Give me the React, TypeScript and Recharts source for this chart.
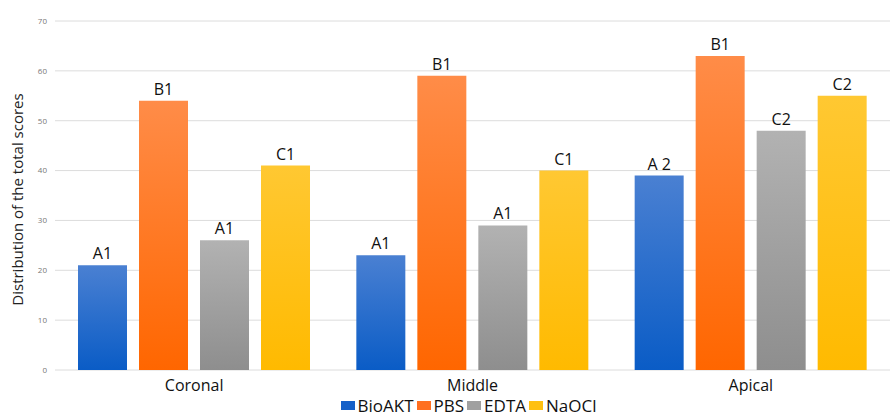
import React from 'react';
import { BarChart, Bar, XAxis, YAxis, CartesianGrid, LabelList, Legend } from 'recharts';

const categories = ['Coronal', 'Middle', 'Apical'];
const bioAKT = [21, 23, 39];
const pbs = [54, 59, 63];
const edta = [26, 29, 48];
const naocl = [41, 40, 55];
const bioAKTLabels = ['A1', 'A1', 'A 2'];
const pbsLabels = ['B1', 'B1', 'B1'];
const edtaLabels = ['A1', 'A1', 'C2'];
const naoclLabels = ['C1', 'C1', 'C2'];
const yTicks = [0, 10, 20, 30, 40, 50, 60, 70];

const data = categories.map((c, i) => ({
  name: c,
  BioAKT: bioAKT[i],
  PBS: pbs[i],
  EDTA: edta[i],
  NaOCl: naocl[i],
  l1: bioAKTLabels[i],
  l2: pbsLabels[i],
  l3: edtaLabels[i],
  l4: naoclLabels[i],
}));

const series = [
  { key: 'BioAKT', label: 'l1', grad: 'gBlue', top: '#4a80d2', bottom: '#0a5cc6', legend: '#1560c8' },
  { key: 'PBS', label: 'l2', grad: 'gOrange', top: '#ff8c48', bottom: '#ff6600', legend: '#ff7020' },
  { key: 'EDTA', label: 'l3', grad: 'gGray', top: '#b2b2b2', bottom: '#8e8e8e', legend: '#a0a0a0' },
  { key: 'NaOCl', label: 'l4', grad: 'gYellow', top: '#ffc832', bottom: '#ffba00', legend: '#ffc010' },
];

const font = '"Open Sans", "Noto Sans", sans-serif';

const LegendContent = () => (
  <div style={{ display: 'flex', justifyContent: 'center', alignItems: 'center', fontFamily: font, fontSize: 17, color: '#111', paddingLeft: 50, lineHeight: '23px' }}>
    {series.map((s) => (
      <span key={s.key} style={{ display: 'inline-flex', alignItems: 'center', marginRight: 3 }}>
        <span style={{ display: 'inline-block', width: 14, height: 9, background: s.legend, marginRight: 3 }} />
        {s.key}
      </span>
    ))}
  </div>
);

export default function App() {
  return (
    <div style={{ position: 'absolute', left: 0, top: 0, width: 890, height: 417, background: '#fff' }}>
      <BarChart
        width={890}
        height={417}
        data={data}
        margin={{ top: 21, right: 0, left: 0, bottom: 0 }}
        barGap={12}
        barSize={49}
      >
        <defs>
          {series.map((s) => (
            <linearGradient key={s.grad} id={s.grad} x1="0" y1="0" x2="0" y2="1">
              <stop offset="0%" stopColor={s.top} />
              <stop offset="100%" stopColor={s.bottom} />
            </linearGradient>
          ))}
        </defs>
        <CartesianGrid vertical={false} stroke="#dcdcdc" />
        <XAxis
          dataKey="name"
          axisLine={false}
          tickLine={false}
          height={24}
          tickMargin={4}
          tick={{ fontSize: 16, fill: '#111', fontFamily: font }}
        />
        <YAxis
          domain={[0, 70]}
          ticks={yTicks}
          width={55}
          axisLine={false}
          tickLine={false}
          tick={{ fontSize: 8, fill: '#777', fontFamily: font }}
          label={{
            value: 'Distribution of the total scores',
            angle: -90,
            position: 'insideLeft',
            offset: 18,
            dy: 4,
            style: { textAnchor: 'middle', fontSize: 15, fill: '#222', fontFamily: font },
          }}
        />
        <Legend verticalAlign="bottom" height={23} content={<LegendContent />} />
        {series.map((s) => (
          <Bar key={s.key} dataKey={s.key} fill={`url(#${s.grad})`} isAnimationActive={false}>
            <LabelList dataKey={s.label} position="top" offset={6} style={{ fontSize: 16, fill: '#111', fontFamily: font }} />
          </Bar>
        ))}
      </BarChart>
    </div>
  );
}
